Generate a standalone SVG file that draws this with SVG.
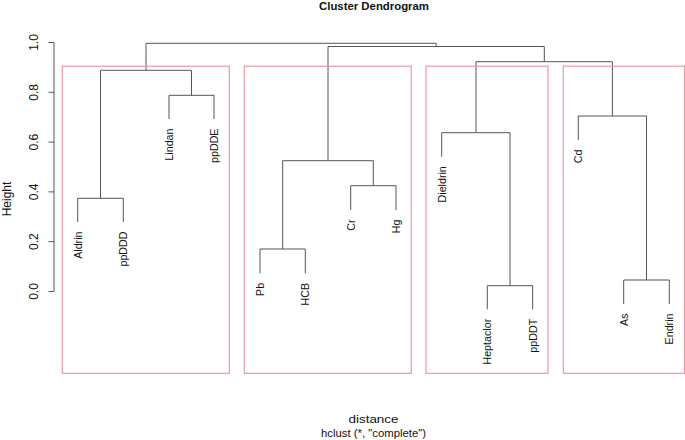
<svg xmlns="http://www.w3.org/2000/svg" width="685" height="440" viewBox="0 0 685 440">
<style>
text{font-family:"Liberation Sans",Arial,sans-serif;fill:#111}
.leaf{font-size:10.7px}
.tick{font-size:12px}
.edge{fill:none;stroke:#555;stroke-width:1}
.box{fill:none;stroke:#ef97a6;stroke-width:1.2}
.axis{fill:none;stroke:#555;stroke-width:1}
</style>
<rect width="685" height="440" fill="#fff"/>
<text x="374" y="9.5" text-anchor="middle" font-weight="bold" font-size="10.5" textLength="110" lengthAdjust="spacingAndGlyphs">Cluster Dendrogram</text>
<g id="axis">
<path class="axis" d="M54 42.5V291.5M48.5 42.5H54M48.5 92.3H54M48.5 142.1H54M48.5 191.9H54M48.5 241.7H54M48.5 291.5H54"/>
<text class="tick" text-anchor="middle" transform="translate(38.3,42.5) rotate(-90)">1.0</text>
<text class="tick" text-anchor="middle" transform="translate(38.3,92.3) rotate(-90)">0.8</text>
<text class="tick" text-anchor="middle" transform="translate(38.3,142.1) rotate(-90)">0.6</text>
<text class="tick" text-anchor="middle" transform="translate(38.3,191.9) rotate(-90)">0.4</text>
<text class="tick" text-anchor="middle" transform="translate(38.3,241.7) rotate(-90)">0.2</text>
<text class="tick" text-anchor="middle" transform="translate(38.3,291.5) rotate(-90)">0.0</text>
<text font-size="12" text-anchor="middle" transform="translate(11,199) rotate(-90)">Height</text>
</g>
<g id="connectors">
<path class="edge" d="M77.7 222V198.3H123.3V222"/>
<path class="edge" d="M169 119V95.3H214V119"/>
<path class="edge" d="M100.5 198.3V70.3H191.5V95.3"/>
<path class="edge" d="M146 70.3V43.3H436.2V46.5"/>
<path class="edge" d="M260 273.3V249H305.3V273.3"/>
<path class="edge" d="M350.7 210V185.7H396V210"/>
<path class="edge" d="M282.7 249V160.7H373.3V185.7"/>
<path class="edge" d="M328 160.7V46.5H544.3V61.7"/>
<path class="edge" d="M487.3 309.3V285.7H532.7V309.3"/>
<path class="edge" d="M441.7 156.7V132.7H510V285.7"/>
<path class="edge" d="M476 132.7V61.7H612.4V116"/>
<path class="edge" d="M623.7 304V280H669.3V304"/>
<path class="edge" d="M578.3 140V116H646.5V280"/>
</g>
<g id="clusters">
<rect id="cluster1" class="box" x="62.3" y="66.2" width="167" height="307.1"/>
<rect id="cluster2" class="box" x="244.3" y="66.2" width="167" height="307.1"/>
<rect id="cluster3" class="box" x="426" y="66.2" width="122" height="307.1"/>
<rect id="cluster4" class="box" x="563.3" y="66.2" width="121.3" height="307.1"/>
</g>
<g id="Aldrin"><text class="leaf" text-anchor="end" transform="translate(81.5,231.5) rotate(-90)">Aldrin</text></g>
<g id="ppDDD"><text class="leaf" text-anchor="end" transform="translate(127.1,231.5) rotate(-90)">ppDDD</text></g>
<g id="Lindan"><text class="leaf" text-anchor="end" transform="translate(172.8,128.5) rotate(-90)">Lindan</text></g>
<g id="ppDDE"><text class="leaf" text-anchor="end" transform="translate(217.8,128.5) rotate(-90)">ppDDE</text></g>
<g id="Pb"><text class="leaf" text-anchor="end" transform="translate(263.8,282.8) rotate(-90)">Pb</text></g>
<g id="HCB"><text class="leaf" text-anchor="end" transform="translate(309.1,282.8) rotate(-90)">HCB</text></g>
<g id="Cr"><text class="leaf" text-anchor="end" transform="translate(354.5,219.5) rotate(-90)">Cr</text></g>
<g id="Hg"><text class="leaf" text-anchor="end" transform="translate(399.8,219.5) rotate(-90)">Hg</text></g>
<g id="Dieldrin"><text class="leaf" text-anchor="end" transform="translate(445.5,166.2) rotate(-90)">Dieldrin</text></g>
<g id="Heptaclor"><text class="leaf" text-anchor="end" transform="translate(491.1,318.8) rotate(-90)">Heptaclor</text></g>
<g id="ppDDT"><text class="leaf" text-anchor="end" transform="translate(536.5,318.8) rotate(-90)">ppDDT</text></g>
<g id="Cd"><text class="leaf" text-anchor="end" transform="translate(582.1,149.5) rotate(-90)">Cd</text></g>
<g id="As"><text class="leaf" text-anchor="end" transform="translate(627.5,313.5) rotate(-90)">As</text></g>
<g id="Endrin"><text class="leaf" text-anchor="end" transform="translate(673.1,313.5) rotate(-90)">Endrin</text></g>
<text x="373.5" y="423.3" text-anchor="middle" font-size="11.8" textLength="50" lengthAdjust="spacingAndGlyphs">distance</text>
<text x="373.5" y="436.7" text-anchor="middle" font-size="10" textLength="105" lengthAdjust="spacingAndGlyphs">hclust (*, "complete")</text>
</svg>
